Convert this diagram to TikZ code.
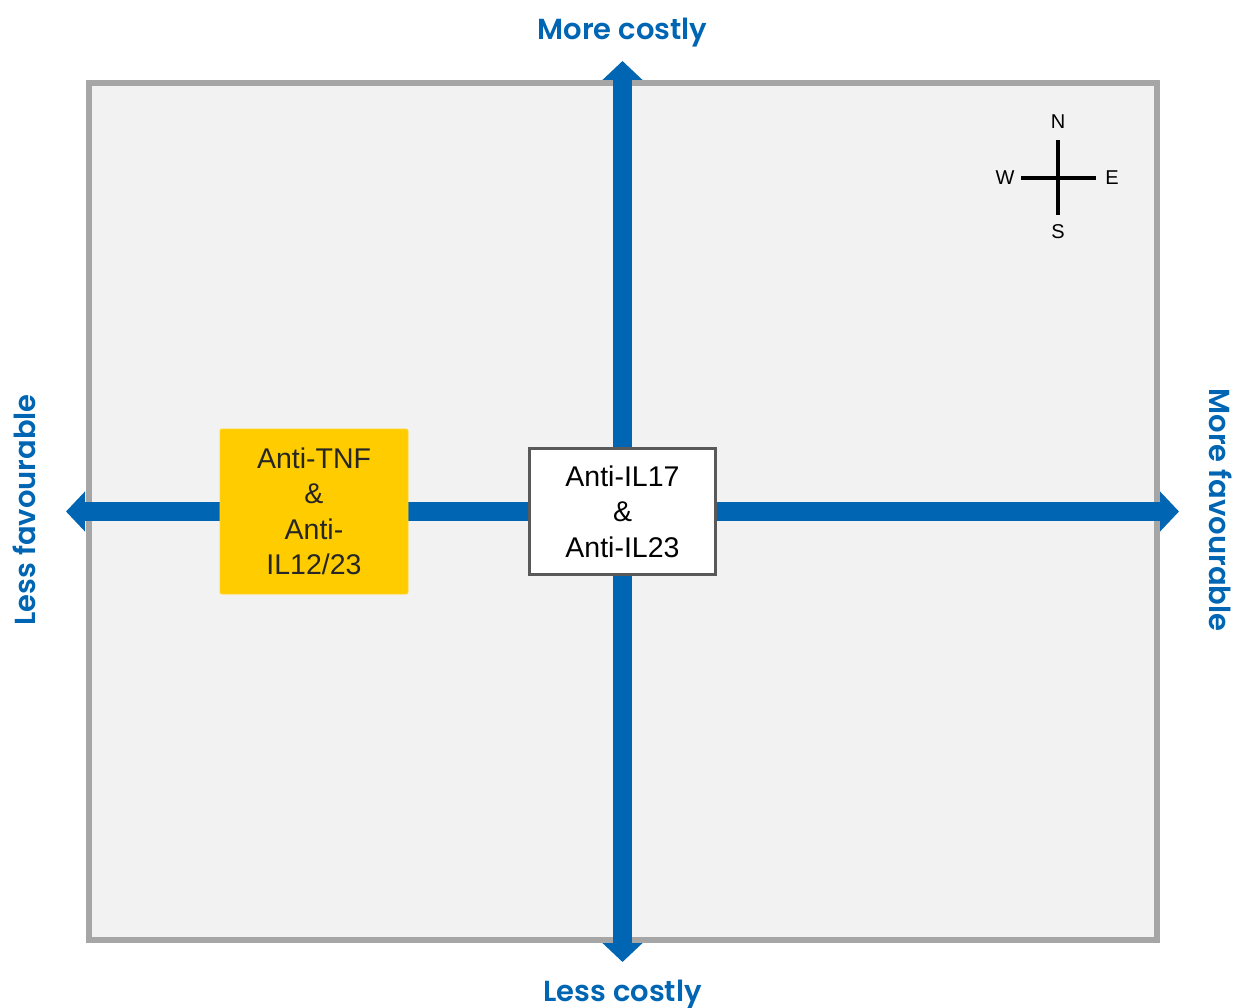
\documentclass[tikz,border=0pt]{standalone}
\usepackage{fontspec}
\setmainfont{Liberation Sans}
\newfontfamily\axisfont{Poppins SemiBold}
\usetikzlibrary{arrows.meta}
\definecolor{axisblue}{RGB}{0,102,179}
\definecolor{framegray}{RGB}{166,166,166}
\definecolor{panelgray}{RGB}{242,242,242}
\definecolor{boxyellow}{RGB}{255,204,0}
\definecolor{boxborder}{RGB}{89,89,89}
\definecolor{txtdark}{RGB}{38,38,38}
\tikzset{
  axisline/.style={draw=axisblue, line width=19pt, {Triangle[length=19pt,width=39pt]}-{Triangle[length=19pt,width=39pt]}},
  axislabel/.style={text=axisblue, inner sep=0pt, anchor=base, font=\axisfont\fontsize{29}{34}\selectfont},
  boxtext/.style={align=center, inner sep=0pt, font=\fontsize{28.5}{35.5}\selectfont},
  compassline/.style={draw=black, line width=4pt},
  compasslabel/.style={inner sep=0pt, font=\fontsize{20}{22}\selectfont},
}
\begin{document}
\begin{tikzpicture}[x=1pt,y=-1pt]
\useasboundingbox (0,0) rectangle (1235,1008);
% panel
\draw[draw=framegray, fill=panelgray, line width=6pt] (88.5,83) rectangle (1157,940);
% axes
\coordinate (top) at (622.5,61);
\coordinate (bottom) at (622.5,962);
\coordinate (left) at (66,511.5);
\coordinate (right) at (1179,511.5);
\draw[axisline] (bottom) -- (top);
\draw[axisline] (left) -- (right);
% boxes
\node[boxtext, fill=boxyellow, draw=boxyellow!85!white, line width=0.8pt, rounded corners=2pt, minimum width=188pt, minimum height=165pt, text=txtdark] (tnf) at (314,511.5) {Anti-TNF\\\&\\Anti-\\IL12/23};
\node[boxtext, fill=white, draw=boxborder, line width=3.5pt, minimum width=186pt, minimum height=126pt, text=black] (il17) at (622.5,511.5) {Anti-IL17\\\&\\Anti-IL23};
% axis labels
\node[axislabel] (morecostly) at (622.5,40) {More costly};
\node[axislabel] (lesscostly) at (622.5,1001) {Less costly};
\node[axislabel, rotate=90] (lessfav) at (35,510) {Less favourable};
\node[axislabel, rotate=-90] (morefav) at (1209,510) {More favourable};
% compass
\coordinate (cN) at (1058,140);
\coordinate (cS) at (1058,215);
\coordinate (cW) at (1021,178);
\coordinate (cE) at (1096,178);
\draw[compassline] (cN) -- (cS);
\draw[compassline] (cW) -- (cE);
\node[compasslabel] (lN) at (1058,122) {N};
\node[compasslabel] (lS) at (1058,232) {S};
\node[compasslabel] (lW) at (1005,178) {W};
\node[compasslabel] (lE) at (1112,178) {E};
\end{tikzpicture}
\end{document}
